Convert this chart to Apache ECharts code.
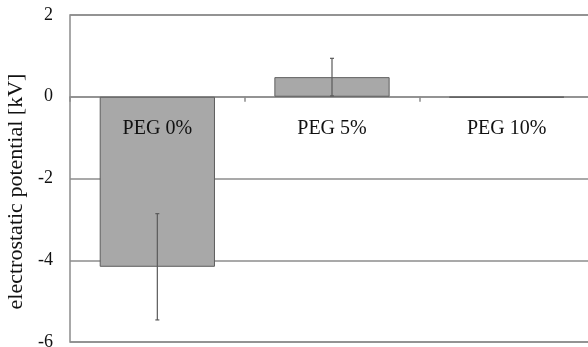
<!DOCTYPE html>
<html>
<head>
<meta charset="utf-8">
<style>
  html, body { margin: 0; padding: 0; background: #fff; }
  #chart { width: 588px; height: 347px; }
</style>
<script src="https://cdn.jsdelivr.net/npm/echarts@6/dist/echarts.min.js"></script>
</head>
<body>
<div id="chart"></div>
<script>
// Mean electrostatic potential per PEG concentration, with error bar spread
const categories = ['PEG 0%', 'PEG 5%', 'PEG 10%'];
const potentialKV = [-4.16, 0.48, -0.02];
const errorKV = [1.3, 0.46, 0];
const yTicks = [2, 0, -2, -4, -6];

const serif = '"Liberation Serif", "DejaVu Serif", serif';

const errorData = categories.map((c, i) => [i, potentialKV[i] - errorKV[i], potentialKV[i] + errorKV[i]]);
// category names sit just below the zero line
const labelData = categories.map((c, i) => [i, 0]);

const chart = echarts.init(document.getElementById('chart'), null, { renderer: 'canvas' });
chart.setOption({
  animation: false,
  backgroundColor: '#fff',
  grid: {
    left: 70, top: 15, right: -6, bottom: 5,
    outerBoundsMode: 'none',
    containLabel: false,
    show: true, borderColor: '#8c8c8c', borderWidth: 1.5, backgroundColor: 'transparent'
  },
  xAxis: {
    type: 'category',
    data: categories,
    axisLine: { onZero: true, lineStyle: { color: '#8c8c8c', width: 1.5 } },
    axisTick: { show: true, alignWithLabel: false, length: 5, lineStyle: { color: '#8c8c8c', width: 1.5 } },
    axisLabel: { show: false },
    splitLine: { show: false }
  },
  yAxis: {
    type: 'value',
    min: -6, max: 2, interval: 2,
    name: 'electrostatic potential [kV]',
    nameLocation: 'middle',
    nameGap: 40,
    nameRotate: 90,
    nameTextStyle: { color: '#111', fontFamily: serif, fontSize: 22, padding: [0, 0, 0, -26] },
    axisLine: { show: false },
    axisTick: { show: false },
    axisLabel: {
      margin: 17, color: '#111', fontFamily: serif, fontSize: 18,
      formatter: v => yTicks.includes(v) ? String(v) : ''
    },
    splitLine: { show: true, lineStyle: { color: '#8c8c8c', width: 1.5 } }
  },
  series: [
    {
      type: 'bar',
      data: potentialKV,
      barWidth: '66%',
      itemStyle: { color: '#a8a8a8', borderColor: '#5e5e5e', borderWidth: 1 },
      z: 2
    },
    {
      type: 'custom',
      data: errorData,
      z: 3,
      renderItem: (params, api) => {
        const x = api.value(0);
        const lo = api.coord([x, api.value(1)]);
        const hi = api.coord([x, api.value(2)]);
        if (Math.abs(hi[1] - lo[1]) < 1) return null;
        const style = { stroke: '#5a5a5a', lineWidth: 1.2 };
        return {
          type: 'group',
          children: [
            { type: 'line', shape: { x1: lo[0], y1: lo[1], x2: hi[0], y2: hi[1] }, style },
            { type: 'line', shape: { x1: lo[0] - 2, y1: lo[1], x2: lo[0] + 2, y2: lo[1] }, style },
            { type: 'line', shape: { x1: hi[0] - 2, y1: hi[1], x2: hi[0] + 2, y2: hi[1] }, style }
          ]
        };
      }
    },
    {
      type: 'custom',
      data: labelData,
      z: 4,
      silent: true,
      renderItem: (params, api) => {
        const p = api.coord([api.value(0), api.value(1)]);
        return {
          type: 'text',
          x: p[0], y: p[1] + 32,
          style: {
            text: categories[params.dataIndex],
            fill: '#111', font: '20px ' + serif,
            align: 'center', verticalAlign: 'middle'
          }
        };
      }
    }
  ]
});
</script>
</body>
</html>
